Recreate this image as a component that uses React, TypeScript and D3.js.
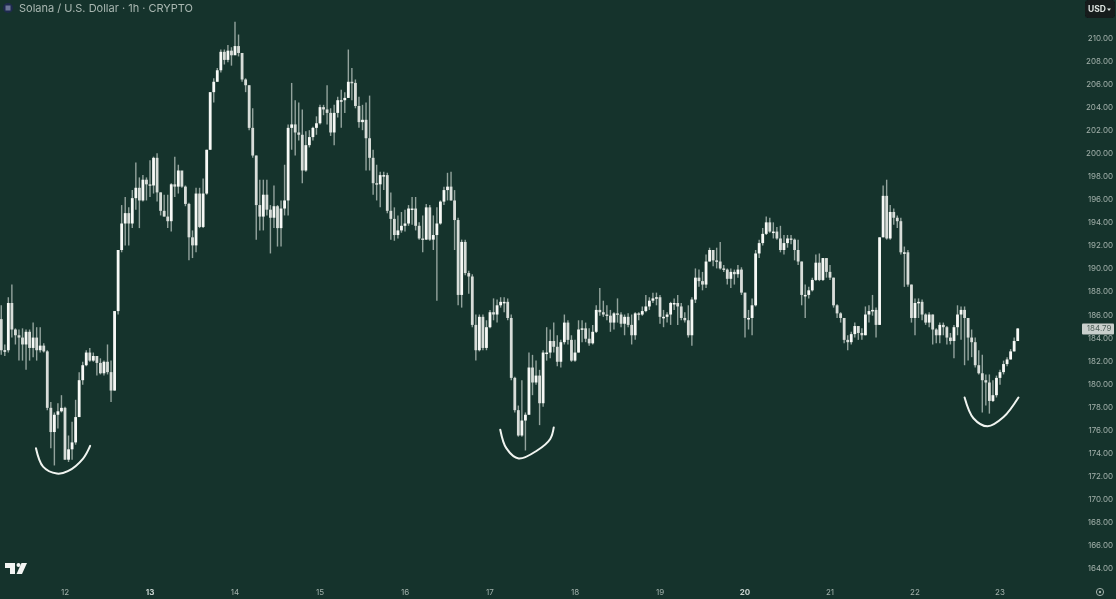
import React from "react";
import * as d3 from "d3";

const firstOpen = 185.6;
const firstHour = -18;

const closes = [
  182.9,182.9,187.0,184.7,184.2,184.0,183.4,184.5,183.1,184.0,182.9,183.3,182.8,177.9,175.8,177.3,177.6,177.9,
  173.4,174.3,174.9,177.1,180.3,181.6,182.7,182.0,182.4,181.8,180.9,181.9,181.0,179.4,186.3,191.6,
  193.9,194.8,193.9,196.1,197.0,195.9,197.7,197.3,197.2,199.6,196.6,195.0,194.5,194.1,197.3,197.1,198.5,197.1,195.6,192.7,192.0,196.5,193.6,196.5,
  200.3,205.3,206.2,207.2,208.8,208.1,208.9,208.5,209.3,208.7,206.4,205.9,202.2,199.8,195.5,194.5,196.4,195.1,194.4,195.4,193.5,195.2,195.9,202.2,
  202.5,201.8,201.6,198.5,200.7,201.4,202.2,202.6,204.0,203.8,203.5,201.8,203.5,204.6,204.6,204.8,206.2,206.1,204.1,202.7,202.9,201.3,199.6,197.4,
  197.3,198.1,198.1,195.0,194.3,192.9,193.3,193.7,193.9,195.2,195.2,193.7,192.6,192.5,195.3,192.5,192.9,193.9,195.8,196.8,197.1,195.9,194.2,187.7,
  192.3,189.6,189.3,185.1,182.9,185.8,183.1,184.9,186.2,186.0,186.8,187.1,187.1,185.7,180.5,177.7,175.5,176.8,177.3,181.4,180.1,180.7,178.3,182.7,
  182.7,183.7,183.2,181.9,183.6,185.3,183.8,182.0,182.7,184.7,184.8,183.9,183.5,184.5,186.4,186.2,186.0,185.9,185.3,186.1,186.0,185.2,185.8,185.1,
  184.2,186.1,186.0,186.3,186.7,187.2,187.4,187.5,185.8,185.8,186.0,187.0,187.0,186.7,185.7,185.5,184.2,187.3,189.2,188.9,188.6,190.6,191.6,190.7,
  190.6,190.0,189.9,189.1,189.7,189.5,189.9,187.9,185.7,185.7,186.8,191.3,192.2,193.0,194.0,193.2,193.2,192.6,191.6,192.2,192.6,192.5,191.6,190.6,
  187.7,187.7,188.1,189.0,190.5,189.0,190.9,189.7,189.2,186.8,186.1,185.7,183.8,183.6,184.3,185.0,184.4,184.2,186.0,186.3,186.4,185.1,192.7,196.3,
  192.6,194.9,194.4,194.1,191.4,191.4,188.6,185.7,187.0,187.1,186.0,185.3,186.0,184.7,184.2,185.1,184.9,184.0,183.7,184.9,186.0,186.4,185.7,184.0,
  183.6,181.6,180.9,180.3,180.1,178.5,179.0,180.5,181.0,181.7,182.1,182.8,183.7,184.79,
];

const highs = [
  186.8,183.4,187.5,188.6,184.8,184.7,184.8,184.7,184.7,185.3,184.9,184.9,183.5,182.9,178.4,177.5,178.3,179.0,
  178.0,175.5,176.7,178.6,181.0,181.9,182.9,183.1,182.7,182.2,182.2,182.0,183.4,182.0,186.3,191.6,
  195.5,196.2,195.3,196.8,199.2,197.9,198.1,197.9,199.4,199.7,200.0,196.6,196.4,196.4,197.4,199.7,199.0,198.4,197.2,195.7,193.3,197.0,197.0,197.8,
  200.3,205.3,206.5,207.4,209.0,209.0,209.4,209.2,211.4,210.3,208.6,206.5,205.9,203.9,199.8,197.7,197.7,197.7,195.5,197.2,195.5,195.9,199.0,202.5,
  206.1,204.6,204.4,203.8,201.9,202.0,202.3,203.2,204.2,204.2,205.9,203.9,204.2,204.9,205.5,205.3,209.0,207.4,206.4,204.9,204.2,204.4,205.0,200.3,
  199.0,198.4,198.4,198.3,196.6,195.3,194.6,194.9,195.1,195.5,196.2,196.2,194.0,194.6,195.6,195.5,194.6,195.3,195.9,197.1,198.3,198.4,196.8,194.4,
  192.5,192.5,189.8,189.5,186.0,186.0,186.0,185.5,186.4,187.4,187.3,187.5,187.5,187.4,186.0,180.6,178.1,180.3,177.5,182.7,182.5,182.0,181.2,182.9,
  184.9,184.7,185.3,184.2,183.8,186.0,185.5,184.2,183.8,185.5,185.5,185.3,184.8,185.1,186.8,188.3,187.2,186.8,186.4,186.2,187.4,186.2,186.0,186.1,
  186.0,186.2,186.2,186.7,187.7,187.5,187.9,187.9,187.7,186.4,186.2,187.1,187.4,187.7,187.0,186.2,186.8,187.5,190.0,189.9,189.7,191.2,191.8,191.6,
  191.8,192.3,190.3,190.0,190.0,189.9,190.3,190.1,187.9,186.4,187.4,191.6,192.5,193.5,194.5,194.4,194.0,193.6,193.7,192.9,192.9,192.9,192.6,192.5,
  190.6,188.6,188.4,189.2,191.2,191.3,190.9,190.9,190.3,189.2,186.9,186.2,185.7,184.2,184.5,185.3,185.0,184.8,186.7,186.8,187.7,186.6,192.7,197.2,
  197.7,195.5,195.2,194.6,194.4,191.9,191.6,188.6,187.4,187.4,187.3,186.1,186.2,186.0,184.8,185.3,185.3,185.0,184.4,185.1,186.8,186.7,186.7,185.7,
  184.7,184.0,182.9,182.5,180.8,180.8,180.3,180.7,181.2,182.0,182.3,183.0,184.0,184.8,
];

const lows = [
  182.5,182.4,182.7,184.0,183.4,182.0,182.0,181.2,182.0,182.3,182.0,182.7,182.7,177.7,174.4,172.9,176.1,177.5,
  173.4,173.2,173.4,174.7,177.1,179.9,181.5,181.9,181.9,180.7,180.8,180.7,180.8,178.4,179.4,186.0,
  191.4,192.0,192.0,193.5,195.1,193.5,195.8,195.9,196.2,196.5,195.8,194.6,194.5,193.5,193.2,196.2,196.5,197.0,195.4,190.7,190.9,191.4,193.5,193.5,
  196.4,200.3,204.4,206.2,207.0,207.7,207.9,207.6,208.6,208.4,206.2,205.3,202.0,199.6,192.5,193.3,193.3,194.6,191.3,193.5,191.9,191.9,194.6,194.6,
  200.3,199.8,201.1,197.4,198.4,200.5,201.1,201.6,202.5,203.3,202.5,201.5,200.7,203.1,202.2,203.5,204.8,204.6,203.9,202.2,202.0,198.5,198.5,196.4,
  195.9,195.3,196.8,194.8,192.5,192.4,192.6,193.1,193.2,193.7,193.8,193.3,192.5,191.4,192.5,192.4,191.6,187.2,193.8,195.5,195.9,195.9,191.6,186.8,
  186.6,189.4,187.8,184.9,182.0,182.8,182.9,182.9,184.8,185.5,185.3,186.6,186.2,185.5,180.3,177.5,175.4,175.4,174.2,177.3,179.0,179.9,176.4,178.0,
  182.0,182.2,182.7,181.5,181.4,183.4,183.4,181.9,181.9,182.7,183.6,183.6,183.3,183.4,184.4,185.9,185.8,185.5,184.5,184.7,185.3,184.9,184.2,184.9,
  183.4,183.8,185.5,185.9,186.2,186.4,187.0,186.8,185.2,184.9,185.3,185.1,186.4,185.1,185.5,185.3,184.0,183.3,187.0,188.4,188.1,188.3,190.6,190.2,
  190.0,189.9,189.7,188.6,188.3,188.6,189.2,187.7,184.0,184.7,184.2,186.7,190.9,192.0,192.9,193.1,192.6,192.5,191.4,191.2,191.8,192.1,190.7,190.3,
  186.8,185.7,187.4,188.0,188.9,188.9,188.9,189.2,189.0,186.6,185.7,185.3,183.5,182.9,183.4,184.0,183.8,183.8,184.2,185.3,185.9,184.0,185.1,192.7,
  192.5,192.5,193.8,193.5,191.2,188.4,188.4,185.3,184.2,185.7,185.5,185.1,184.9,183.4,183.5,183.5,184.2,183.4,183.4,182.2,184.2,183.8,181.6,182.0,
  182.3,181.4,180.8,177.5,178.1,177.4,178.4,178.8,179.9,180.8,181.5,182.1,182.8,183.8,
];

const priceTicks = [210,208,206,204,202,200,198,196,194,192,190,188,186,184,182,180,178,176,174,172,170,168,166,164];
const dayTicks = [12,13,14,15,16,17,18,19,20,21,22,23];
const boldDays = [13,20];
const lastPrice = 184.79;

const sketchOne: [number, number][] = [[-8.2,174.4],[-6.2,172.8],[-2.3,172.2],[0.8,172.4],[5.1,173.5],[7.1,174.6]];
const sketchTwo: [number, number][] = [[122.9,176.0],[124.6,174.4],[128.1,173.5],[133.3,174.2],[137,175.2],[138,176.2]];
const sketchThree: [number, number][] = [[254,178.8],[256.5,177.0],[260.5,176.3],[265,177.1],[269.2,178.8]];
const sketches = [sketchOne, sketchTwo, sketchThree];

const W = 1116;
const H = 599;
const BG = "#15332c";

export default function App() {
  const x = d3.scaleLinear().domain([0, 264]).range([65, 1000]);
  const y = d3.scaleLinear().domain([210, 164]).range([38, 568]);
  const sketchLine = d3
    .line<[number, number]>()
    .x((d) => x(d[0]))
    .y((d) => y(d[1]))
    .curve(d3.curveCatmullRom.alpha(0.5));
  const fmt = d3.format(".2f");
  const n = Math.min(closes.length, highs.length, lows.length);
  const idx = d3.range(n);
  const bw = 2.8;

  return (
    <svg
      width={W}
      height={H}
      viewBox={`0 0 ${W} ${H}`}
      style={{ position: "fixed", left: 0, top: 0, display: "block", background: BG }}
      fontFamily="Inter, 'Noto Sans', sans-serif"
    >
      <defs>
        <filter id="soft" x="-5%" y="-5%" width="110%" height="110%">
          <feGaussianBlur stdDeviation="0.55" />
        </filter>
        <filter id="softer" x="-5%" y="-5%" width="110%" height="110%">
          <feGaussianBlur stdDeviation="0.45" />
        </filter>
      </defs>
      <rect width={W} height={H} fill={BG} />

      <g filter="url(#soft)">
        {idx.map((i) => {
          const cx = x(i + firstHour);
          return (
            <line
              key={i}
              x1={cx}
              x2={cx}
              y1={y(highs[i])}
              y2={y(lows[i])}
              stroke="#93a39d"
              strokeWidth={1.4}
            />
          );
        })}
        {idx.map((i) => {
          const cx = x(i + firstHour);
          const o = i === 0 ? firstOpen : closes[i - 1];
          const c = closes[i];
          const top = y(Math.max(o, c));
          const bot = y(Math.min(o, c));
          return (
            <rect
              key={i}
              x={cx - bw / 2}
              y={top}
              width={bw}
              height={Math.max(bot - top, 1.5)}
              fill={c >= o ? "#f7f9f6" : "#d8ddd9"}
            />
          );
        })}
        {sketches.map((s, i) => (
          <path key={i} d={sketchLine(s) ?? ""} fill="none" stroke="#f0f4f0" strokeWidth={2} strokeLinecap="round" />
        ))}
      </g>

      <g filter="url(#softer)">
        <circle cx={8} cy={8} r={5} fill="#1f2a4d" />
        <rect x={5.5} y={5.5} width={5} height={5} fill="#8d97b8" opacity={0.7} />
        <text x={19} y={12} fontSize={11} fill="#a9b7b1">
          Solana / U.S. Dollar · 1h · CRYPTO
        </text>

        <rect x={1085} y={0} width={30} height={18} rx={3} fill="#131a1a" />
        <text x={1088} y={12} fontSize={8.5} fontWeight={700} fill="#dfe4e1">
          USD
        </text>
        <path d="M1107 8.5 h4 l-2 2.5 z" fill="#dfe4e1" />

        {priceTicks.map((p) => (
          <text key={p} x={1113} y={y(p) + 3} fontSize={8} textAnchor="end" fill="#a3b1ab">
            {fmt(p)}
          </text>
        ))}

        <rect x={1082} y={y(lastPrice) - 5} width={32} height={11} rx={1} fill="#c9cfcc" />
        <text x={1111.5} y={y(lastPrice) + 3} fontSize={8} textAnchor="end" fill="#4e5f59">
          {fmt(lastPrice)}
        </text>

        {dayTicks.map((d) => (
          <text
            key={d}
            x={x((d - 12) * 24)}
            y={595}
            fontSize={8}
            textAnchor="middle"
            fontWeight={boldDays.includes(d) ? 700 : 400}
            fill={boldDays.includes(d) ? "#c8d2ce" : "#a3b1ab"}
          >
            {d}
          </text>
        ))}

        <path d="M5 563 H15 V574 H10 V568 H5 Z" fill="#f3f5f3" />
        <circle cx={18.5} cy={565} r={2} fill="#f3f5f3" />
        <path d="M21.5 563 H27 L22 574 H16.5 Z" fill="#f3f5f3" />

        <circle cx={1100} cy={592} r={3.6} fill="none" stroke="#a3b1ab" strokeWidth={1} />
        <circle cx={1100} cy={592} r={1.2} fill="#a3b1ab" />
      </g>
    </svg>
  );
}
